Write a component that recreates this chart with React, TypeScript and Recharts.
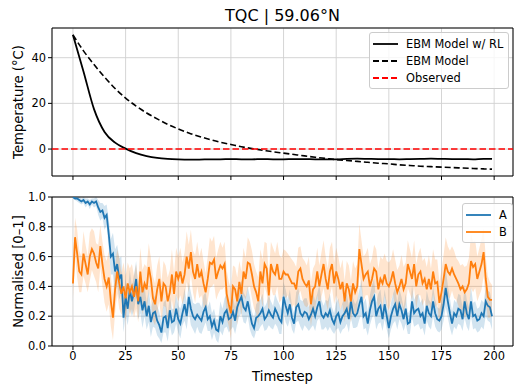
import {
  ComposedChart,
  Line,
  Area,
  XAxis,
  YAxis,
  CartesianGrid,
  ReferenceLine,
  ReferenceArea,
  Legend,
} from "recharts";

// top panel, read every 5 steps
const coarseSteps = [
  0, 5, 10, 15, 20, 25, 30, 35, 40, 45, 50, 55, 60, 65, 70, 75, 80, 85, 90, 95, 100,
  105, 110, 115, 120, 125, 130, 135, 140, 145, 150, 155, 160, 165, 170, 175, 180, 185,
  190, 195, 199,
];
const ebmRl = [
  50, 34, 17.5, 7.5, 2.8, 0.2, -1.8, -3.1, -3.9, -4.3, -4.5, -4.6, -4.6, -4.5, -4.5,
  -4.4, -4.5, -4.5, -4.4, -4.5, -4.5, -4.4, -4.4, -4.5, -4.5, -4.5, -4.3, -4.2, -4.3,
  -4.4, -4.4, -4.5, -4.4, -4.3, -4.2, -4.3, -4.4, -4.4, -4.5, -4.3, -4.3,
];
const ebm = [
  50, 43, 37, 31.5, 26.5, 22.3, 18.8, 15.8, 13.2, 10.8, 8.8, 7.0, 5.5, 4.2, 3.0, 2.0,
  1.0, 0.2, -0.5, -1.2, -1.8, -2.4, -3.0, -3.6, -4.1, -4.6, -5.0, -5.4, -5.8, -6.2,
  -6.5, -6.9, -7.2, -7.5, -7.7, -7.9, -8.1, -8.3, -8.5, -8.7, -8.8,
];
const observed = 0;

// bottom panel, one value per timestep
const seriesA = [
  1.0, 0.99, 0.99, 0.98, 0.97, 0.98, 0.96, 0.97, 0.95, 0.97,
  0.96, 0.97, 0.93, 0.9, 0.91, 0.86, 0.88, 0.75, 0.6, 0.62,
  0.5, 0.55, 0.45, 0.48, 0.19, 0.33, 0.25, 0.38, 0.3, 0.36,
  0.45, 0.28, 0.33, 0.24, 0.3, 0.2, 0.27, 0.16, 0.22, 0.23,
  0.17, 0.14, 0.09, 0.19, 0.2, 0.12, 0.24, 0.16, 0.17, 0.25,
  0.18, 0.15, 0.22, 0.28, 0.2, 0.33, 0.25, 0.2, 0.18, 0.21,
  0.19, 0.17, 0.23, 0.26, 0.18, 0.2, 0.13, 0.17, 0.11, 0.1,
  0.2, 0.16, 0.22, 0.24, 0.18, 0.19, 0.23, 0.17, 0.26, 0.3,
  0.33, 0.26, 0.24, 0.3, 0.22, 0.15, 0.12, 0.19, 0.2, 0.22,
  0.25, 0.18, 0.2, 0.24, 0.21, 0.19, 0.25, 0.22, 0.18, 0.16,
  0.33, 0.27, 0.22, 0.28, 0.19, 0.15, 0.26, 0.28, 0.22, 0.2,
  0.23, 0.22, 0.18, 0.21, 0.25, 0.2, 0.26, 0.3, 0.21, 0.19,
  0.22, 0.2, 0.24, 0.18, 0.15, 0.2, 0.22, 0.16, 0.2, 0.22,
  0.25, 0.18, 0.3, 0.22, 0.2, 0.22, 0.28, 0.33, 0.2, 0.22,
  0.15, 0.24, 0.3, 0.33, 0.2, 0.25, 0.27, 0.18, 0.28, 0.2,
  0.12, 0.2, 0.25, 0.28, 0.2, 0.28, 0.24, 0.18, 0.25, 0.15,
  0.16, 0.3, 0.22, 0.24, 0.25, 0.2, 0.22, 0.15, 0.27, 0.22,
  0.2, 0.3, 0.22, 0.18, 0.17, 0.2, 0.28, 0.39, 0.3, 0.22,
  0.15, 0.22, 0.2, 0.25, 0.24, 0.18, 0.3, 0.22, 0.18, 0.3,
  0.2, 0.21, 0.17, 0.18, 0.22, 0.2, 0.3, 0.27, 0.26, 0.2,
];
const spreadA = [
  0.01, 0.01, 0.02, 0.02, 0.02, 0.02, 0.03, 0.02, 0.03, 0.02,
  0.03, 0.03, 0.05, 0.06, 0.05, 0.08, 0.07, 0.1, 0.12, 0.14,
  0.15, 0.13, 0.14, 0.12, 0.1, 0.12, 0.11, 0.13, 0.1, 0.12,
  0.12, 0.1, 0.11, 0.12, 0.1, 0.09, 0.11, 0.1, 0.09, 0.11,
  0.1, 0.09, 0.07, 0.1, 0.11, 0.09, 0.1, 0.09, 0.08, 0.1,
  0.09, 0.1, 0.08, 0.11, 0.09, 0.1, 0.11, 0.09, 0.1, 0.08,
  0.1, 0.09, 0.11, 0.1, 0.08, 0.1, 0.09, 0.08, 0.07, 0.08,
  0.1, 0.09, 0.1, 0.11, 0.09, 0.08, 0.1, 0.09, 0.11, 0.1,
  0.11, 0.1, 0.09, 0.1, 0.11, 0.08, 0.07, 0.09, 0.1, 0.09,
  0.1, 0.08, 0.09, 0.1, 0.09, 0.08, 0.1, 0.09, 0.1, 0.08,
  0.1, 0.11, 0.09, 0.1, 0.08, 0.07, 0.1, 0.11, 0.09, 0.1,
  0.09, 0.1, 0.08, 0.09, 0.11, 0.1, 0.09, 0.11, 0.1, 0.08,
  0.09, 0.1, 0.11, 0.08, 0.07, 0.09, 0.1, 0.08, 0.09, 0.1,
  0.1, 0.09, 0.11, 0.1, 0.08, 0.09, 0.1, 0.12, 0.09, 0.1,
  0.08, 0.1, 0.11, 0.12, 0.09, 0.1, 0.11, 0.08, 0.1, 0.09,
  0.07, 0.09, 0.1, 0.11, 0.09, 0.1, 0.09, 0.08, 0.1, 0.07,
  0.08, 0.11, 0.09, 0.1, 0.1, 0.09, 0.1, 0.08, 0.1, 0.09,
  0.09, 0.1, 0.09, 0.08, 0.08, 0.09, 0.11, 0.13, 0.11, 0.1,
  0.08, 0.09, 0.09, 0.1, 0.1, 0.08, 0.11, 0.09, 0.08, 0.1,
  0.09, 0.09, 0.08, 0.08, 0.09, 0.09, 0.1, 0.1, 0.1, 0.09,
];
const seriesB = [
  0.42, 0.73, 0.62, 0.5, 0.48, 0.62, 0.55, 0.48, 0.6, 0.65,
  0.62, 0.56, 0.52, 0.67, 0.55, 0.45, 0.4, 0.46, 0.3, 0.19,
  0.38, 0.5, 0.42, 0.35, 0.4, 0.32, 0.42, 0.36, 0.4, 0.33,
  0.4, 0.3, 0.5, 0.36, 0.42, 0.38, 0.53, 0.45, 0.32, 0.28,
  0.38, 0.45, 0.3, 0.42, 0.4, 0.3, 0.36, 0.48, 0.35, 0.5,
  0.45, 0.5, 0.42, 0.48, 0.6, 0.52, 0.63, 0.5, 0.45, 0.55,
  0.46, 0.5, 0.42, 0.36, 0.45, 0.56, 0.55, 0.58, 0.45, 0.5,
  0.54, 0.52, 0.55, 0.35, 0.28, 0.22, 0.4, 0.38, 0.3, 0.43,
  0.35, 0.5, 0.45, 0.56, 0.55, 0.48, 0.4, 0.36, 0.3, 0.5,
  0.42, 0.55, 0.52, 0.34, 0.55, 0.5, 0.48, 0.55, 0.45, 0.45,
  0.5, 0.48, 0.48, 0.45, 0.42, 0.42, 0.38, 0.5, 0.52, 0.45,
  0.42, 0.4, 0.44, 0.28, 0.38, 0.4, 0.5, 0.4, 0.48, 0.55,
  0.45, 0.38, 0.5, 0.55, 0.42, 0.5, 0.45, 0.38, 0.43, 0.3,
  0.42, 0.38, 0.3, 0.42, 0.36, 0.4, 0.65, 0.55, 0.45, 0.48,
  0.5, 0.4, 0.45, 0.52, 0.5, 0.38, 0.45, 0.42, 0.48, 0.42,
  0.4, 0.44, 0.5, 0.42, 0.36, 0.4, 0.45, 0.38, 0.42, 0.55,
  0.5, 0.45, 0.55, 0.4, 0.48, 0.5, 0.42, 0.45, 0.38, 0.45,
  0.38, 0.5, 0.42, 0.43, 0.29, 0.36, 0.45, 0.55, 0.5, 0.48,
  0.52, 0.48, 0.45, 0.42, 0.38, 0.4, 0.36, 0.38, 0.42, 0.57,
  0.53, 0.55, 0.45, 0.5, 0.55, 0.63, 0.45, 0.33, 0.31, 0.31,
];
const spreadB = [
  0.1, 0.13, 0.16, 0.14, 0.12, 0.15, 0.13, 0.12, 0.16, 0.14,
  0.15, 0.13, 0.16, 0.14, 0.15, 0.16, 0.17, 0.18, 0.17, 0.15,
  0.16, 0.15, 0.17, 0.14, 0.16, 0.15, 0.14, 0.16, 0.15, 0.14,
  0.15, 0.14, 0.16, 0.15, 0.13, 0.15, 0.16, 0.14, 0.15, 0.14,
  0.16, 0.15, 0.13, 0.15, 0.14, 0.16, 0.15, 0.17, 0.14, 0.16,
  0.15, 0.16, 0.14, 0.15, 0.17, 0.16, 0.15, 0.14, 0.16, 0.15,
  0.14, 0.16, 0.15, 0.13, 0.15, 0.17, 0.15, 0.16, 0.14, 0.15,
  0.16, 0.14, 0.15, 0.16, 0.15, 0.17, 0.14, 0.15, 0.16, 0.14,
  0.15, 0.16, 0.14, 0.17, 0.15, 0.16, 0.15, 0.14, 0.16, 0.15,
  0.16, 0.15, 0.17, 0.14, 0.15, 0.16, 0.14, 0.15, 0.16, 0.14,
  0.15, 0.16, 0.14, 0.15, 0.16, 0.14, 0.15, 0.16, 0.15, 0.14,
  0.15, 0.14, 0.16, 0.15, 0.14, 0.15, 0.16, 0.14, 0.15, 0.16,
  0.15, 0.14, 0.16, 0.15, 0.14, 0.16, 0.15, 0.14, 0.15, 0.14,
  0.15, 0.16, 0.14, 0.15, 0.16, 0.15, 0.17, 0.16, 0.15, 0.14,
  0.16, 0.15, 0.14, 0.16, 0.15, 0.14, 0.15, 0.16, 0.14, 0.15,
  0.16, 0.14, 0.15, 0.16, 0.15, 0.14, 0.16, 0.15, 0.14, 0.16,
  0.15, 0.14, 0.16, 0.15, 0.14, 0.16, 0.15, 0.14, 0.15, 0.16,
  0.14, 0.15, 0.16, 0.15, 0.14, 0.15, 0.16, 0.18, 0.17, 0.16,
  0.15, 0.16, 0.14, 0.15, 0.16, 0.15, 0.17, 0.16, 0.17, 0.18,
  0.17, 0.16, 0.15, 0.16, 0.17, 0.16, 0.15, 0.14, 0.12, 0.1,
];

const xTicks = [0, 25, 50, 75, 100, 125, 150, 175, 200];
const tempTicks = [0, 20, 40];
const normTicks = [0, 0.2, 0.4, 0.6, 0.8, 1.0];

const X_DOMAIN: [number, number] = [-9.95, 208.95];
const T_DOMAIN: [number, number] = [-11.8, 53];
const FONT = "DejaVu Sans, sans-serif";
const BLUE = "#1f77b4";
const ORANGE = "#ff7f0e";
const GRID = "#d0d0d0";

const clip = (v: number) => Math.max(0, Math.min(1, v));

const topData = coarseSteps.map((t, i) => ({ t, rl: ebmRl[i], ebm: ebm[i] }));
const bottomData = seriesA.map((a, i) => ({
  t: i,
  a,
  b: seriesB[i],
  aBand: [clip(a - spreadA[i]), clip(a + spreadA[i])],
  bBand: [clip(seriesB[i] - spreadB[i]), clip(seriesB[i] + spreadB[i])],
}));

type LegendItem = { label: string; color: string; dash?: string };

const legendBox = (items: LegendItem[]) => () => (
  <div
    style={{
      background: "rgba(255,255,255,0.8)",
      border: "1px solid #cccccc",
      borderRadius: 3,
      padding: "2px 5px 2px 3px",
      fontFamily: FONT,
      fontSize: 11.4,
      color: "#000",
    }}
  >
    {items.map((it) => (
      <div key={it.label} style={{ display: "flex", alignItems: "center", height: 17 }}>
        <svg width={25} height={6} style={{ marginRight: 8 }}>
          <line x1={0} y1={3} x2={25} y2={3} stroke={it.color} strokeWidth={1.8} strokeDasharray={it.dash} />
        </svg>
        <span style={{ whiteSpace: "nowrap" }}>{it.label}</span>
      </div>
    ))}
  </div>
);

const tick = { fill: "#000", fontSize: 11.4, fontFamily: FONT };
const axisLabelStyle = { textAnchor: "middle" as const, fontSize: 13.2, fontFamily: FONT, fill: "#000" };

const App = () => {
  return (
    <div style={{ position: "absolute", left: 0, top: 0, width: 526, height: 392, background: "#fff" }}>
      <div
        style={{
          position: "absolute",
          left: 52,
          top: 6,
          width: 461,
          textAlign: "center",
          fontFamily: FONT,
          fontSize: 16,
          lineHeight: "normal",
        }}
      >
        TQC | 59.06°N
      </div>

      <div style={{ position: "absolute", left: 0, top: 0 }}>
        <ComposedChart width={526} height={180} data={topData} margin={{ top: 28, right: 13, left: 0, bottom: 0 }}>
          <CartesianGrid stroke={GRID} strokeWidth={0.9} />
          <XAxis
            dataKey="t"
            type="number"
            domain={X_DOMAIN}
            ticks={xTicks}
            height={4}
            tickSize={4}
            tickFormatter={() => ""}
            axisLine={false}
            tickLine={{ stroke: "#000" }}
          />
          <YAxis
            type="number"
            domain={T_DOMAIN}
            ticks={tempTicks}
            width={52}
            tickSize={4}
            tick={tick}
            axisLine={false}
            tickLine={{ stroke: "#000" }}
            label={{ value: "Temperature (°C)", angle: -90, position: "insideLeft", offset: 18, style: axisLabelStyle }}
          />
          <Line dataKey="rl" type="monotone" stroke="#000" strokeWidth={1.8} dot={false} activeDot={false} isAnimationActive={false} />
          <Line dataKey="ebm" type="monotone" stroke="#000" strokeWidth={1.6} strokeDasharray="6 3" dot={false} activeDot={false} isAnimationActive={false} />
          <ReferenceLine y={observed} stroke="#ff0000" strokeWidth={1.6} strokeDasharray="6.5 3" />
          <ReferenceArea x1={X_DOMAIN[0]} x2={X_DOMAIN[1]} y1={T_DOMAIN[0]} y2={T_DOMAIN[1]} fill="none" stroke="#000" strokeWidth={1} />
          <Legend
            layout="vertical"
            align="center"
            verticalAlign="middle"
            wrapperStyle={{ left: 369, top: 32, width: "auto", height: "auto" }}
            content={legendBox([
              { label: "EBM Model w/ RL", color: "#000" },
              { label: "EBM Model", color: "#000", dash: "6 3" },
              { label: "Observed", color: "#ff0000", dash: "6 3" },
            ])}
          />
        </ComposedChart>
      </div>

      <div style={{ position: "absolute", left: 0, top: 180 }}>
        <ComposedChart width={526} height={212} data={bottomData} margin={{ top: 17, right: 13, left: 0, bottom: 0 }}>
          <CartesianGrid stroke={GRID} strokeWidth={0.9} />
          <XAxis
            dataKey="t"
            type="number"
            domain={X_DOMAIN}
            ticks={xTicks}
            height={46}
            tickSize={4}
            tick={tick}
            axisLine={false}
            tickLine={{ stroke: "#000" }}
          />
          <YAxis
            type="number"
            domain={[0, 1]}
            allowDataOverflow
            ticks={normTicks}
            width={52}
            tickSize={4}
            tick={tick}
            tickFormatter={(v: number) => v.toFixed(1)}
            axisLine={false}
            tickLine={{ stroke: "#000" }}
            label={{ value: "Normalised [0–1]", angle: -90, position: "insideLeft", offset: 18, style: axisLabelStyle }}
          />
          <Area dataKey="aBand" type="linear" fill={BLUE} fillOpacity={0.2} stroke="none" dot={false} activeDot={false} legendType="none" isAnimationActive={false} />
          <Line dataKey="a" type="linear" stroke={BLUE} strokeWidth={1.8} dot={false} activeDot={false} isAnimationActive={false} />
          <Area dataKey="bBand" type="linear" fill={ORANGE} fillOpacity={0.2} stroke="none" dot={false} activeDot={false} legendType="none" isAnimationActive={false} />
          <Line dataKey="b" type="linear" stroke={ORANGE} strokeWidth={1.8} dot={false} activeDot={false} isAnimationActive={false} />
          <ReferenceArea x1={X_DOMAIN[0]} x2={X_DOMAIN[1]} y1={0} y2={1} fill="none" stroke="#000" strokeWidth={1} />
          <Legend
            layout="vertical"
            align="center"
            verticalAlign="middle"
            wrapperStyle={{ left: 462, top: 23, width: "auto", height: "auto" }}
            content={legendBox([
              { label: "A", color: BLUE },
              { label: "B", color: ORANGE },
            ])}
          />
        </ComposedChart>
      </div>

      <div
        style={{
          position: "absolute",
          left: 52,
          top: 369,
          width: 461,
          textAlign: "center",
          fontFamily: FONT,
          fontSize: 13.2,
          lineHeight: "normal",
        }}
      >
        Timestep
      </div>
    </div>
  );
};

export default App;
